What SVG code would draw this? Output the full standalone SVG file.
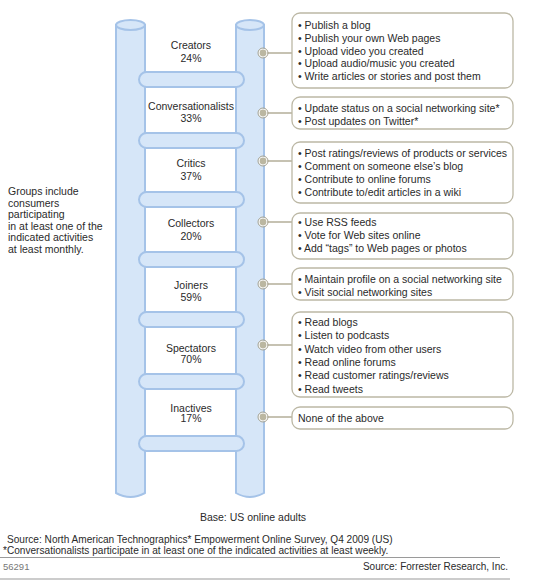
<svg xmlns="http://www.w3.org/2000/svg" width="536" height="582" viewBox="0 0 536 582">
<style>
text{font-family:"Liberation Sans",Arial,sans-serif;fill:#2a2a2a}
.t{font-size:10.5px}
.c{font-size:10.5px;text-anchor:middle}
.pole{fill:#d6e6f8;stroke:#a5c3e8;stroke-width:2}
.rung{fill:#d6e6f8;stroke:#a5c3e8;stroke-width:2}
.box{fill:#fff;stroke:#bcb8a5;stroke-width:1.3}
.ln{stroke:#b3ae98;stroke-width:1.5;fill:none}
.dot{fill:#bbb7a1;stroke:#fff;stroke-width:1.2}
.dotr{fill:none;stroke:#9f9b87;stroke-width:0.9}
.ft{font-size:10.1px}
</style>
<rect width="536" height="582" fill="#fff"/>

<g id="ladder">
  <path class="pole" d="M116,25 L116,493 Q130.5,501 145,493 L145,25 Z"/>
  <ellipse class="pole" cx="130.5" cy="25" rx="14.5" ry="5"/>
  <path class="pole" d="M236,25 L236,493 Q250,501 264,493 L264,25 Z"/>
  <ellipse class="pole" cx="250" cy="25" rx="14" ry="5"/>
  <rect class="rung" x="139" y="72" width="105" height="15" rx="7.5"/>
  <rect class="rung" x="139" y="133" width="105" height="15" rx="7.5"/>
  <rect class="rung" x="139" y="192" width="105" height="15" rx="7.5"/>
  <rect class="rung" x="139" y="252" width="105" height="15" rx="7.5"/>
  <rect class="rung" x="139" y="312" width="105" height="15" rx="7.5"/>
  <rect class="rung" x="139" y="374" width="105" height="15" rx="7.5"/>
  <rect class="rung" x="139" y="436" width="105" height="15" rx="7.5"/>
</g>

<g id="connectors">
  <line class="ln" x1="263" y1="53" x2="292" y2="53"/>
  <line class="ln" x1="263" y1="113" x2="292" y2="113"/>
  <line class="ln" x1="263" y1="161" x2="292" y2="161"/>
  <line class="ln" x1="263" y1="222" x2="292" y2="222"/>
  <line class="ln" x1="263" y1="284" x2="292" y2="284"/>
  <line class="ln" x1="263" y1="345" x2="292" y2="345"/>
  <line class="ln" x1="263" y1="417" x2="292" y2="417"/>
  <g>
    <circle class="dot" cx="263" cy="53" r="4"/><circle class="dotr" cx="263" cy="53" r="5"/>
    <circle class="dot" cx="263" cy="113" r="4"/><circle class="dotr" cx="263" cy="113" r="5"/>
    <circle class="dot" cx="263" cy="161" r="4"/><circle class="dotr" cx="263" cy="161" r="5"/>
    <circle class="dot" cx="263" cy="222" r="4"/><circle class="dotr" cx="263" cy="222" r="5"/>
    <circle class="dot" cx="263" cy="284" r="4"/><circle class="dotr" cx="263" cy="284" r="5"/>
    <circle class="dot" cx="263" cy="345" r="4"/><circle class="dotr" cx="263" cy="345" r="5"/>
    <circle class="dot" cx="263" cy="417" r="4"/><circle class="dotr" cx="263" cy="417" r="5"/>
  </g>
</g>

<g id="creators">
  <text class="c" x="191" y="49">Creators</text>
  <text class="c" x="191" y="62">24%</text>
</g>
<g id="conversationalists">
  <text class="c" x="191" y="110">Conversationalists</text>
  <text class="c" x="191" y="122">33%</text>
</g>
<g id="critics">
  <text class="c" x="191" y="167">Critics</text>
  <text class="c" x="191" y="180">37%</text>
</g>
<g id="collectors">
  <text class="c" x="191" y="227">Collectors</text>
  <text class="c" x="191" y="240">20%</text>
</g>
<g id="joiners">
  <text class="c" x="191" y="288.5">Joiners</text>
  <text class="c" x="191" y="300.5">59%</text>
</g>
<g id="spectators">
  <text class="c" x="191" y="351.5">Spectators</text>
  <text class="c" x="191" y="363">70%</text>
</g>
<g id="inactives">
  <text class="c" x="191" y="411.5">Inactives</text>
  <text class="c" x="191" y="422">17%</text>
</g>

<g id="note">
  <text class="t" x="8" y="195">Groups include</text>
  <text class="t" x="8" y="206.5">consumers</text>
  <text class="t" x="8" y="218">participating</text>
  <text class="t" x="8" y="229.5">in at least one of the</text>
  <text class="t" x="8" y="241">indicated activities</text>
  <text class="t" x="8" y="252.5">at least monthly.</text>
</g>

<g id="box-creators">
  <rect class="box" x="292" y="13" width="221" height="75" rx="8"/>
  <text class="t" x="298" y="29">• Publish a blog</text>
  <text class="t" x="298" y="41.8">• Publish your own Web pages</text>
  <text class="t" x="298" y="54.6">• Upload video you created</text>
  <text class="t" x="298" y="67.4">• Upload audio/music you created</text>
  <text class="t" x="298" y="80.2">• Write articles or stories and post them</text>
</g>
<g id="box-conversationalists">
  <rect class="box" x="292" y="97" width="221" height="32" rx="8"/>
  <text class="t" x="298" y="112">• Update status on a social networking site*</text>
  <text class="t" x="298" y="124.5">• Post updates on Twitter*</text>
</g>
<g id="box-critics">
  <rect class="box" x="292" y="142" width="221" height="61" rx="8"/>
  <text class="t" x="298" y="156.5">• Post ratings/reviews of products or services</text>
  <text class="t" x="298" y="169.7">• Comment on someone else’s blog</text>
  <text class="t" x="298" y="182.9">• Contribute to online forums</text>
  <text class="t" x="298" y="196.1">• Contribute to/edit articles in a wiki</text>
</g>
<g id="box-collectors">
  <rect class="box" x="292" y="213" width="221" height="46" rx="8"/>
  <text class="t" x="298" y="225.5">• Use RSS feeds</text>
  <text class="t" x="298" y="238.8">• Vote for Web sites online</text>
  <text class="t" x="298" y="252.1">• Add “tags” to Web pages or photos</text>
</g>
<g id="box-joiners">
  <rect class="box" x="292" y="268" width="221" height="32" rx="8"/>
  <text class="t" x="298" y="283">• Maintain profile on a social networking site</text>
  <text class="t" x="298" y="296">• Visit social networking sites</text>
</g>
<g id="box-spectators">
  <rect class="box" x="292" y="312" width="221" height="85" rx="8"/>
  <text class="t" x="298" y="326">• Read blogs</text>
  <text class="t" x="298" y="339.3">• Listen to podcasts</text>
  <text class="t" x="298" y="352.6">• Watch video from other users</text>
  <text class="t" x="298" y="365.9">• Read online forums</text>
  <text class="t" x="298" y="379.2">• Read customer ratings/reviews</text>
  <text class="t" x="298" y="392.5">• Read tweets</text>
</g>
<g id="box-inactives">
  <rect class="box" x="292" y="407" width="221" height="22" rx="8"/>
  <text class="t" x="298" y="421.5">None of the above</text>
</g>

<g id="footer">
  <text class="t" x="253" y="521" text-anchor="middle">Base: US online adults</text>
  <text class="ft" x="7" y="543">Source: North American Technographics* Empowerment Online Survey, Q4 2009 (US)</text>
  <text class="ft" x="3" y="554">*Conversationalists participate in at least one of  the indicated activities at least weekly.</text>
  <line x1="0" y1="557.5" x2="500" y2="557.5" stroke="#9a9a9a" stroke-width="1.2"/>
  <text x="3" y="570" style="font-size:9.5px;fill:#777">56291</text>
  <text x="508" y="570" text-anchor="end" style="font-size:10px">Source: Forrester Research, Inc.</text>
  <line x1="0" y1="579" x2="510" y2="579" stroke="#9a9a9a" stroke-width="1.2"/>
</g>
</svg>
